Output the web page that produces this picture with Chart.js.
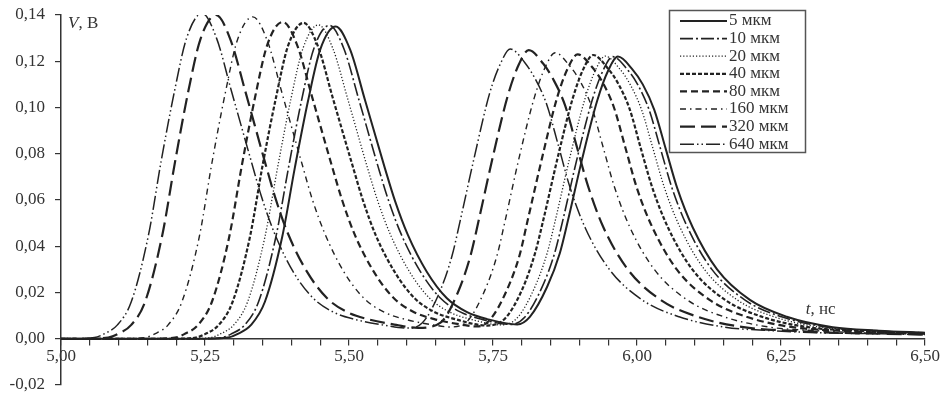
<!DOCTYPE html>
<html lang="ru">
<head>
  <meta charset="UTF-8" />
  <title>V(t)</title>
  <script src="https://cdn.jsdelivr.net/npm/chart.js"></script>
  <style>
    html, body { margin: 0; padding: 0; background: #fff; }
    #wrap { width: 945px; height: 398px; }
  </style>
</head>
<body>
  <div id="wrap"><canvas id="chart" width="945" height="398"></canvas></div>

  <script>
    const seriesLabels = ["5 мкм", "10 мкм", "20 мкм", "40 мкм", "80 мкм", "160 мкм", "320 мкм", "640 мкм"];
    const yTicks = [-0.02, 0, 0.02, 0.04, 0.06, 0.08, 0.10, 0.12, 0.14];
    const xLabelTicks = [5.00, 5.25, 5.50, 5.75, 6.00, 6.25, 6.50];

    // t, нс / V, В for each thickness
    const t5 = [5.00, 5.25, 5.29, 5.306, 5.33, 5.354, 5.384, 5.406, 5.429, 5.450, 5.477, 5.502, 5.528, 5.562, 5.580, 5.602, 5.635, 5.670, 5.705, 5.740, 5.792,
      5.814, 5.844, 5.866, 5.880, 5.905, 5.931, 5.950, 5.967, 5.992, 6.010, 6.030, 6.050, 6.070, 6.097, 6.139, 6.196, 6.260, 6.340, 6.420, 6.500];
    const v5 = [0, 0, 0.0005, 0.002, 0.006, 0.016, 0.044, 0.074, 0.103, 0.125, 0.135, 0.125, 0.103, 0.074, 0.0595, 0.045, 0.029, 0.0175, 0.0115, 0.0085, 0.0062,
      0.0095, 0.0225, 0.037, 0.051, 0.078, 0.103, 0.116, 0.122, 0.1165, 0.110, 0.099, 0.082, 0.065, 0.048, 0.030, 0.0168, 0.0095, 0.005, 0.0035, 0.0026];

    const t10 = [5.00, 5.239, 5.279, 5.295, 5.319, 5.343, 5.373, 5.395, 5.418, 5.439, 5.466, 5.491, 5.517, 5.551, 5.569, 5.591, 5.624, 5.659, 5.694, 5.729, 5.781,
      5.805, 5.835, 5.857, 5.871, 5.896, 5.922, 5.941, 5.958, 5.983, 6.001, 6.021, 6.041, 6.061, 6.088, 6.130, 6.187, 6.251, 6.331, 6.411, 6.500];
    const v10 = [0, 0, 0.0005, 0.002, 0.006, 0.016, 0.044, 0.074, 0.1035, 0.1255, 0.1355, 0.1255, 0.1035, 0.074, 0.0595, 0.045, 0.029, 0.0175, 0.0115, 0.0085, 0.0062,
      0.0093, 0.0222, 0.037, 0.051, 0.078, 0.103, 0.116, 0.122, 0.1165, 0.110, 0.099, 0.082, 0.065, 0.048, 0.030, 0.0168, 0.0095, 0.005, 0.0035, 0.0025];

    const t20 = [5.00, 5.220, 5.260, 5.276, 5.300, 5.324, 5.354, 5.376, 5.399, 5.420, 5.447, 5.472, 5.498, 5.532, 5.550, 5.572, 5.605, 5.640, 5.675, 5.710, 5.765,
      5.792, 5.822, 5.844, 5.858, 5.883, 5.909, 5.928, 5.945, 5.970, 5.988, 6.008, 6.028, 6.048, 6.075, 6.117, 6.174, 6.238, 6.318, 6.398, 6.478, 6.500];
    const v20 = [0, 0, 0.0005, 0.002, 0.006, 0.016, 0.044, 0.074, 0.1035, 0.1255, 0.1357, 0.1255, 0.1035, 0.074, 0.0595, 0.045, 0.029, 0.0175, 0.0115, 0.0085, 0.006,
      0.009, 0.022, 0.037, 0.051, 0.078, 0.1032, 0.1162, 0.1222, 0.1167, 0.110, 0.099, 0.082, 0.065, 0.048, 0.030, 0.0168, 0.0095, 0.005, 0.0035, 0.0026, 0.0024];

    const t40 = [5.00, 5.194, 5.234, 5.250, 5.274, 5.298, 5.328, 5.350, 5.373, 5.394, 5.421, 5.446, 5.472, 5.506, 5.524, 5.546, 5.579, 5.614, 5.649, 5.684, 5.740,
      5.771, 5.801, 5.823, 5.837, 5.862, 5.888, 5.907, 5.924, 5.949, 5.967, 5.987, 6.007, 6.027, 6.054, 6.096, 6.153, 6.217, 6.297, 6.377, 6.457, 6.500];
    const v40 = [0, 0, 0.0005, 0.002, 0.006, 0.016, 0.044, 0.075, 0.104, 0.1265, 0.1366, 0.1265, 0.104, 0.075, 0.060, 0.045, 0.029, 0.0175, 0.0115, 0.0085, 0.0057,
      0.0088, 0.0215, 0.037, 0.051, 0.078, 0.1036, 0.1167, 0.1227, 0.117, 0.1105, 0.0995, 0.082, 0.065, 0.048, 0.030, 0.0168, 0.0095, 0.005, 0.0035, 0.0026, 0.0023];

    const t80 = [5.00, 5.158, 5.198, 5.214, 5.238, 5.262, 5.292, 5.314, 5.337, 5.358, 5.385, 5.410, 5.436, 5.470, 5.488, 5.510, 5.543, 5.578, 5.613, 5.648, 5.698, 5.722,
      5.744, 5.774, 5.796, 5.810, 5.835, 5.861, 5.880, 5.897, 5.922, 5.940, 5.960, 5.980, 6.000, 6.027, 6.069, 6.126, 6.190, 6.270, 6.350, 6.430, 6.500];
    const v80 = [0, 0, 0.0005, 0.002, 0.006, 0.016, 0.044, 0.075, 0.1045, 0.127, 0.137, 0.127, 0.1045, 0.075, 0.060, 0.045, 0.029, 0.0175, 0.0115, 0.0085, 0.006, 0.0053,
      0.008, 0.021, 0.036, 0.051, 0.078, 0.104, 0.117, 0.123, 0.1175, 0.111, 0.100, 0.0825, 0.065, 0.048, 0.030, 0.0168, 0.0095, 0.005, 0.0035, 0.0026, 0.0022];

    const t160 = [5.00, 5.106, 5.146, 5.162, 5.186, 5.210, 5.240, 5.262, 5.285, 5.306, 5.333, 5.358, 5.384, 5.418, 5.436, 5.458, 5.491, 5.526, 5.561, 5.596, 5.646, 5.675,
      5.705, 5.735, 5.757, 5.771, 5.796, 5.822, 5.841, 5.858, 5.883, 5.901, 5.921, 5.941, 5.961, 5.988, 6.030, 6.087, 6.151, 6.231, 6.311, 6.391, 6.500];
    const v160 = [0, 0, 0.0005, 0.002, 0.006, 0.016, 0.044, 0.076, 0.106, 0.129, 0.1392, 0.129, 0.106, 0.076, 0.0605, 0.0455, 0.029, 0.0175, 0.0115, 0.0085, 0.006, 0.0051,
      0.0075, 0.0205, 0.036, 0.051, 0.079, 0.1045, 0.1176, 0.1237, 0.118, 0.1115, 0.1005, 0.083, 0.0655, 0.048, 0.030, 0.0168, 0.0095, 0.005, 0.0035, 0.0026, 0.0021];

    const t320 = [5.00, 5.042, 5.082, 5.098, 5.122, 5.146, 5.176, 5.198, 5.221, 5.242, 5.269, 5.294, 5.320, 5.354, 5.372, 5.394, 5.427, 5.462, 5.497, 5.532, 5.582, 5.620,
      5.659, 5.689, 5.711, 5.725, 5.750, 5.776, 5.795, 5.812, 5.837, 5.855, 5.875, 5.895, 5.915, 5.942, 5.984, 6.041, 6.105, 6.185, 6.265, 6.345, 6.420, 6.500];
    const v320 = [0, 0, 0.0005, 0.002, 0.006, 0.016, 0.045, 0.0765, 0.107, 0.1295, 0.140, 0.1295, 0.107, 0.0765, 0.061, 0.0455, 0.029, 0.0175, 0.0115, 0.0085, 0.006, 0.0047,
      0.007, 0.020, 0.036, 0.051, 0.079, 0.1054, 0.1187, 0.1248, 0.119, 0.112, 0.101, 0.0835, 0.066, 0.048, 0.030, 0.0168, 0.0095, 0.005, 0.0035, 0.0026, 0.0022, 0.0018];

    const t640 = [5.00, 5.018, 5.058, 5.074, 5.098, 5.122, 5.152, 5.174, 5.197, 5.218, 5.245, 5.270, 5.296, 5.330, 5.348, 5.370, 5.403, 5.438, 5.473, 5.508, 5.558, 5.600,
      5.627, 5.657, 5.679, 5.693, 5.718, 5.744, 5.763, 5.780, 5.805, 5.823, 5.843, 5.863, 5.883, 5.910, 5.952, 6.009, 6.073, 6.153, 6.233, 6.313, 6.410, 6.500];
    const v640 = [0, 0, 0.0005, 0.002, 0.006, 0.016, 0.045, 0.077, 0.107, 0.130, 0.1407, 0.130, 0.107, 0.077, 0.0615, 0.046, 0.029, 0.0175, 0.0115, 0.0085, 0.006, 0.0046,
      0.0068, 0.020, 0.036, 0.051, 0.079, 0.106, 0.119, 0.1253, 0.1195, 0.1125, 0.1015, 0.084, 0.066, 0.048, 0.030, 0.0168, 0.0095, 0.005, 0.0035, 0.0026, 0.0022, 0.0018];

    const times = [t5, t10, t20, t40, t80, t160, t320, t640];
    const volts = [v5, v10, v20, v40, v80, v160, v320, v640];

    const lineStyles = [
      { dash: [], width: 2 },
      { dash: [13, 3, 2, 3], width: 1.6 },
      { dash: [1.2, 2], width: 1.3 },
      { dash: [4, 2], width: 2.2 },
      { dash: [7, 4], width: 2.2 },
      { dash: [6, 4, 1.5, 4], width: 1.4 },
      { dash: [15, 6], width: 2.2 },
      { dash: [14, 3, 1.5, 3, 1.5, 3], width: 1.5 }
    ];

    const ink = "#222";
    const textColor = "#333";
    const serif = '"Liberation Serif", "DejaVu Serif", serif';
    const fmt = (v) => v.toFixed(2).replace(".", ",").replace("-0,00", "0,00");

    const datasets = seriesLabels.map((label, i) => {
      const n = Math.min(times[i].length, volts[i].length);
      const pts = [];
      for (let k = 0; k < n; k++) pts.push({ x: times[i][k], y: volts[i][k] });
      return {
        label,
        data: pts,
        borderColor: ink,
        borderWidth: lineStyles[i].width,
        borderDash: lineStyles[i].dash,
        pointRadius: 0,
        fill: false,
        cubicInterpolationMode: "monotone"
      };
    });

    const overlay = {
      id: "overlay",
      afterDraw(chart) {
        const { ctx, scales: { x, y } } = chart;
        ctx.save();
        ctx.fillStyle = textColor;
        ctx.textBaseline = "middle";
        ctx.textAlign = "left";

        // axis titles
        let px = y.right + 7, py = y.getPixelForValue(0.14) + 9;
        ctx.font = "italic 17px " + serif;
        ctx.fillText("V", px, py);
        px += ctx.measureText("V").width;
        ctx.font = "17px " + serif;
        ctx.fillText(", В", px, py);

        px = x.getPixelForValue(6.293); py = y.getPixelForValue(0.0125);
        ctx.font = "italic 17px " + serif;
        ctx.fillText("t", px, py);
        px += ctx.measureText("t").width;
        ctx.font = "17px " + serif;
        ctx.fillText(", нс", px, py);

        // legend
        const bx = 669, by = 10, bw = 136, bh = 142;
        ctx.fillStyle = "#fff";
        ctx.fillRect(bx, by, bw, bh);
        ctx.strokeStyle = "#555";
        ctx.lineWidth = 1.5;
        ctx.setLineDash([]);
        ctx.strokeRect(bx + 0.5, by + 0.5, bw, bh);
        chart.data.datasets.forEach((ds, i) => {
          const ry = by + 11 + i * 17.6;
          ctx.strokeStyle = ink;
          ctx.lineWidth = ds.borderWidth;
          ctx.setLineDash(ds.borderDash);
          ctx.beginPath();
          ctx.moveTo(bx + 11, ry);
          ctx.lineTo(bx + 58, ry);
          ctx.stroke();
          ctx.setLineDash([]);
          ctx.fillStyle = textColor;
          ctx.font = "17px " + serif;
          ctx.fillText(ds.label, bx + 60, ry);
        });
        ctx.restore();
      }
    };

    new Chart(document.getElementById("chart"), {
      type: "line",
      data: { datasets },
      options: {
        responsive: false,
        animation: false,
        devicePixelRatio: 1,
        layout: { padding: { left: 0, top: 15, right: 20, bottom: 13 } },
        plugins: { legend: { display: false }, tooltip: { enabled: false } },
        scales: {
          x: {
            type: "linear",
            position: { y: 0 },
            min: 5.0,
            max: 6.5,
            afterFit: (s) => { s.paddingTop = 0; s.paddingBottom = 0; },
            border: { display: true, color: textColor, width: 1.5 },
            grid: { drawOnChartArea: false, drawTicks: true, tickLength: 6, color: textColor, lineWidth: 1.2 },
            ticks: {
              stepSize: 0.05,
              autoSkip: false,
              maxRotation: 0,
              padding: 2,
              color: textColor,
              font: { family: serif, size: 17 },
              callback: (v) => xLabelTicks.some(t => Math.abs(t - v) < 1e-6) ? fmt(v) : ""
            }
          },
          y: {
            type: "linear",
            min: yTicks[0],
            max: yTicks[yTicks.length - 1],
            afterFit: (s) => { s.width = 61; s.paddingTop = 0; s.paddingBottom = 0; },
            border: { display: true, color: textColor, width: 1.5 },
            grid: { drawOnChartArea: false, drawTicks: true, tickLength: 6, color: textColor, lineWidth: 1.2 },
            afterBuildTicks: (s) => { s.ticks = yTicks.map(v => ({ value: v })); },
            ticks: {
              padding: 10,
              color: textColor,
              font: { family: serif, size: 17 },
              callback: (v) => fmt(v)
            }
          }
        }
      },
      plugins: [overlay]
    });
  </script>
</body>
</html>
